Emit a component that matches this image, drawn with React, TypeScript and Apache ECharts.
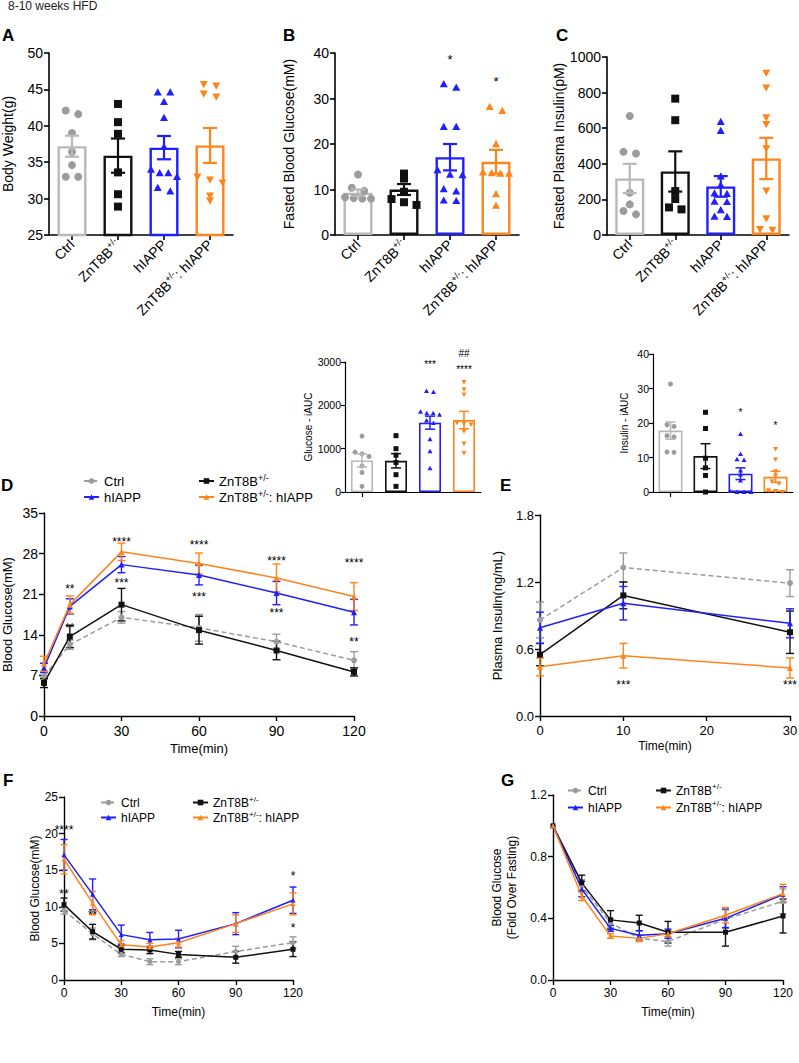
import React, { useEffect, useRef } from 'react';
import * as echarts from 'echarts';

const FONT = '"Liberation Sans", Arial, Helvetica, sans-serif';
const C_GRAY = '#9c9c9c';
const C_GRAYBAR = '#b8b8b8';
const C_BLACK = '#111111';
const C_BLUE = '#1f1fff';
const C_ORANGE = '#ff8419';

const groups = ['Ctrl', 'ZnT8B+/-', 'hIAPP', 'ZnT8B+/-: hIAPP'];
const pointColors = [C_GRAY, C_BLACK, C_BLUE, C_ORANGE];
const barColors = [C_GRAYBAR, C_BLACK, C_BLUE, C_ORANGE];

// ---- A: Body weight (g)
const bwMean = [37.2, 35.9, 37.0, 37.3];
const bwSem = [1.45, 2.35, 1.6, 2.4];
const bwCtrl = [42.1, 41.6, 39.0, 36.4, 34.6, 33.0, 33.0];
const bwZnt = [43.0, 40.5, 38.9, 33.6, 30.6, 28.9];
const bwHiapp = [44.6, 44.6, 43.3, 41.1, 37.1, 34.0, 33.5, 33.5, 33.0, 31.5, 31.0];
const bwDouble = [45.7, 45.5, 44.4, 44.0, 33.0, 32.6, 32.2, 30.4, 29.7];

// ---- B: Fasted blood glucose (mM)
const fbgMean = [9.3, 10.0, 17.1, 16.1];
const fbgSem = [0.7, 1.2, 2.9, 2.6];
const fbgCtrl = [13.3, 10.4, 9.7, 8.3, 8.1, 8.0, 8.0];
const fbgZnt = [13.5, 12.4, 9.5, 7.9, 7.2, 6.6];
const fbgHiapp = [33.2, 32.4, 23.8, 23.8, 14.3, 13.3, 13.2, 10.1, 9.6, 7.6, 7.5];
const fbgDouble = [28.2, 27.3, 20.0, 13.8, 13.6, 13.5, 13.5, 9.0, 6.5];
const fbgStars = [[2, 39.2, '*'], [3, 34.3, '*']];

// ---- C: Fasted plasma insulin (pM)
const fpiMean = [318, 357, 273, 430];
const fpiSem = [82, 113, 58, 116];
const fpiCtrl = [669, 467, 458, 237, 172, 135, 116];
const fpiZnt = [766, 645, 247, 202, 155, 144];
const fpiHiapp = [636, 585, 330, 280, 234, 232, 188, 186, 140, 104, 102];
const fpiDouble = [910, 828, 660, 622, 486, 249, 93, 32, 28];

// ---- Glucose iAUC inset
const gaucMean = [727, 720, 1600, 1660];
const gaucSem = [150, 165, 150, 200];
const gaucCtrl = [1290, 920, 880, 820, 600, 450, 130];
const gaucZnt = [1300, 1000, 850, 680, 400, 130];
const gaucHiapp = [2330, 2310, 1850, 1820, 1820, 1780, 1650, 1590, 1220, 940, 550];
const gaucDouble = [2540, 2370, 2250, 1600, 1580, 1560, 1400, 1120, 900];
const gaucStars = [[2, 3000, '***'], [3, 2870, '****'], [3, 3190, '##']];

// ---- Insulin iAUC inset
const iaucMean = [17.8, 10.4, 5.3, 4.4];
const iaucSem = [2.5, 3.6, 1.7, 1.6];
const iaucCtrl = [31.3, 19.5, 19.0, 16.3, 16.0, 11.6, 11.5];
const iaucZnt = [23.1, 18.4, 9.8, 7.0, 4.8, 0];
const iaucHiapp = [16.8, 11.0, 9.5, 9.3, 6.2, 5.1, 3.3, 0.3, 0, 0, 0];
const iaucDouble = [12.5, 9.4, 6.0, 4.8, 3.1, 2.5, 0.5, 0.3, 0];
const iaucStars = [[2, 23.6, '*'], [3, 20.0, '*']];

// ---- D: GTT blood glucose (mM)
const dTimes = [0, 10, 30, 60, 90, 120];
const dCtrl = [6.9, 12.3, 17.0, 15.2, 12.8, 9.6];
const dCtrlErr = [0.6, 0.8, 1.0, 2.3, 1.3, 1.5];
const dZnt = [5.7, 13.7, 19.2, 14.8, 11.3, 7.6];
const dZntErr = [0.8, 1.9, 2.8, 2.4, 1.6, 0.7];
const dHiapp = [8.3, 18.9, 26.1, 24.3, 21.2, 17.9];
const dHiappErr = [0.8, 1.3, 1.4, 1.7, 2.0, 2.2];
const dDouble = [9.0, 19.2, 28.3, 26.3, 23.8, 20.6];
const dDoubleErr = [1.3, 1.5, 1.5, 1.8, 2.4, 2.4];
const dStars = [[10, 22.3, '**'], [10, 15.6, '**'], [30, 30.5, '****'], [30, 23.4, '***'], [60, 30.0, '****'], [60, 20.9, '***'], [90, 27.2, '****'], [90, 18.2, '***'], [120, 26.8, '****'], [120, 13.2, '**']];

// ---- E: plasma insulin (ng/mL)
const eTimes = [0, 10, 30];
const eCtrl = [0.86, 1.33, 1.19];
const eCtrlErr = [0.16, 0.13, 0.12];
const eZnt = [0.55, 1.08, 0.75];
const eZntErr = [0.1, 0.12, 0.19];
const eHiapp = [0.79, 1.01, 0.83];
const eHiappErr = [0.14, 0.15, 0.13];
const eDouble = [0.44, 0.54, 0.43];
const eDoubleErr = [0.08, 0.11, 0.09];
const eStars = [[10, 0.3, '***'], [30, 0.3, '***']];

// ---- F: ITT blood glucose (mM)
const fTimes = [0, 15, 30, 45, 60, 90, 120];
const fCtrl = [9.5, 6.3, 3.5, 2.5, 2.5, 3.9, 5.1];
const fCtrlErr = [0.5, 0.8, 0.3, 0.4, 0.4, 0.7, 0.8];
const fZnt = [10.3, 6.6, 4.2, 4.1, 3.5, 3.1, 4.2];
const fZntErr = [0.9, 1.0, 0.5, 0.5, 0.4, 0.8, 1.0];
const fHiapp = [17.1, 11.7, 6.2, 5.5, 5.6, 7.7, 10.9];
const fHiappErr = [2.1, 2.1, 1.3, 1.0, 1.2, 1.5, 1.8];
const fDouble = [16.5, 10.5, 4.8, 4.5, 5.1, 7.7, 10.4];
const fDoubleErr = [2.0, 1.6, 0.6, 0.5, 0.6, 1.2, 1.5];
const fStars = [[0, 20.9, '****'], [0, 12.1, '**'], [15, 9.3, '**'], [120, 14.6, '*'], [120, 7.5, '*']];

// ---- G: ITT fold over fasting
const gTimes = [0, 15, 30, 45, 60, 90, 120];
const gCtrl = [1.0, 0.61, 0.37, 0.27, 0.25, 0.395, 0.51];
const gCtrlErr = [0, 0.04, 0.03, 0.02, 0.03, 0.06, 0.08];
const gZnt = [1.0, 0.63, 0.39, 0.37, 0.31, 0.31, 0.415];
const gZntErr = [0, 0.05, 0.06, 0.05, 0.07, 0.09, 0.11];
const gHiapp = [1.0, 0.59, 0.335, 0.29, 0.30, 0.40, 0.555];
const gHiappErr = [0, 0.05, 0.02, 0.03, 0.03, 0.06, 0.05];
const gDouble = [1.0, 0.545, 0.285, 0.27, 0.30, 0.42, 0.56];
const gDoubleErr = [0, 0.03, 0.015, 0.02, 0.02, 0.05, 0.06];

const supFmt = (s: string) => s.replace('+/-', '{s|+/-}');
const plainNum = (v: number) => String(v);

function marker(shape: string, x: number, y: number, s: number, color: string) {
  const h = s / 2;
  if (shape === 'circle') return { type: 'circle', shape: { cx: x, cy: y, r: h }, style: { fill: color } };
  if (shape === 'square') return { type: 'rect', shape: { x: x - h, y: y - h, width: s, height: s }, style: { fill: color } };
  if (shape === 'triangle') return { type: 'polygon', shape: { points: [[x, y - h], [x + h, y + h * 0.8], [x - h, y + h * 0.8]] }, style: { fill: color } };
  return { type: 'polygon', shape: { points: [[x - h, y - h * 0.8], [x + h, y - h * 0.8], [x, y + h]] }, style: { fill: color } };
}

function jitterLayout(vals: number[], tol: number) {
  const order = vals.map((_, i) => i).sort((a, b) => vals[b] - vals[a]);
  const res: number[][] = new Array(vals.length);
  let cluster: number[] = [];
  const flush = () => {
    const n = cluster.length;
    cluster.forEach((idx, j) => { res[idx] = [j - (n - 1) / 2, n]; });
    cluster = [];
  };
  order.forEach((idx) => {
    if (cluster.length && vals[cluster[cluster.length - 1]] - vals[idx] > tol) flush();
    cluster.push(idx);
  });
  flush();
  return res;
}

function starSeries(gi: number, stars: any[], fs: number) {
  return {
    type: 'custom', xAxisIndex: gi, yAxisIndex: gi, z: 6, silent: true,
    data: stars.map((s) => [s[0], s[1]]),
    renderItem: (params: any, api: any) => {
      const c = api.coord([api.value(0), api.value(1)]);
      const txt = stars[params.dataIndex][2] as string;
      const dy = txt.indexOf('*') >= 0 ? fs * 0.22 : 0;
      return { type: 'text', x: c[0], y: c[1] + dy, style: { text: txt, fill: '#000', fontSize: fs, fontFamily: FONT, align: 'center', verticalAlign: 'middle' } };
    },
  };
}

function errSeries(gi: number, data: number[][], colors: string[], cap: number, lw: number, z: number) {
  return {
    type: 'custom', xAxisIndex: gi, yAxisIndex: gi, z, silent: true,
    data,
    renderItem: (params: any, api: any) => {
      const x = api.value(0), y = api.value(1), e = api.value(2);
      if (!e) return null;
      const t = api.coord([x, y + e]);
      const b = api.coord([x, y - e]);
      const col = colors[params.dataIndex % colors.length];
      const st = { stroke: col, lineWidth: lw };
      const w = cap / 2;
      return {
        type: 'group', children: [
          { type: 'line', shape: { x1: t[0], y1: t[1], x2: b[0], y2: b[1] }, style: st },
          { type: 'line', shape: { x1: t[0] - w, y1: t[1], x2: t[0] + w, y2: t[1] }, style: st },
          { type: 'line', shape: { x1: b[0] - w, y1: b[1], x2: b[0] + w, y2: b[1] }, style: st },
        ],
      };
    },
  };
}

function barPanelSeries(p: any) {
  const out: any[] = [];
  out.push({
    type: 'bar', xAxisIndex: p.gi, yAxisIndex: p.gi, barWidth: p.bw, clip: true, z: 2, silent: true,
    data: p.means.map((m: number, i: number) => ({ value: m, itemStyle: { color: 'rgba(255,255,255,0)', borderColor: barColors[i], borderWidth: p.blw } })),
  });
  p.pts.forEach((vals: number[], gIdx: number) => {
    const lay = jitterLayout(vals, p.range * 0.025);
    const shape = p.shapes[gIdx];
    const color = pointColors[gIdx];
    out.push({
      type: 'custom', xAxisIndex: p.gi, yAxisIndex: p.gi, z: 3, silent: true,
      data: vals.map((v, k) => [gIdx, v, lay[k][0], lay[k][1]]),
      renderItem: (params: any, api: any) => {
        const c = api.coord([api.value(0), api.value(1)]);
        const off = api.value(2), n = api.value(3);
        const step = n > 1 ? Math.min(p.sp, (p.bw - 3) / (n - 1)) : 0;
        return marker(shape, c[0] + off * step, c[1], p.ps, color);
      },
    });
  });
  out.push(errSeries(p.gi, p.means.map((m: number, i: number) => [i, m, p.sems[i]]), barColors, p.cap, p.elw, 4));
  if (p.stars.length) out.push(starSeries(p.gi, p.stars, p.sf));
  return out;
}

const lineStyles: any = {
  'Ctrl': { color: C_GRAY, symbol: 'circle', dashed: true },
  'ZnT8B+/-': { color: C_BLACK, symbol: 'rect', dashed: false },
  'hIAPP': { color: C_BLUE, symbol: 'triangle', dashed: false },
  'ZnT8B+/-: hIAPP': { color: C_ORANGE, symbol: 'triangle', dashed: false },
};

function linePanelSeries(p: any) {
  const out: any[] = [];
  p.defs.forEach((d: any) => {
    const st = lineStyles[d.name];
    out.push(errSeries(p.gi, p.times.map((t: number, i: number) => [t, d.v[i], d.e[i]]), [st.color], p.cap, 1.4, 3));
    out.push({
      type: 'line', name: d.name, xAxisIndex: p.gi, yAxisIndex: p.gi, z: 4, silent: true,
      data: p.times.map((t: number, i: number) => [t, d.v[i]]),
      symbol: st.symbol, symbolSize: p.sym, showSymbol: true,
      itemStyle: { color: st.color },
      lineStyle: { color: st.color, width: 1.5, type: st.dashed ? [5, 3] : 'solid' },
    });
  });
  if (p.stars && p.stars.length) out.push(starSeries(p.gi, p.stars, p.sf));
  return out;
}

const axLine = (lw: number) => ({ show: true, onZero: false, lineStyle: { color: '#000', width: lw } });
const axTick = (lw: number, len: number) => ({ show: true, length: len, lineStyle: { color: '#000', width: lw } });

function catX(gi: number, labels: boolean, lw: number) {
  return {
    gridIndex: gi, type: 'category', data: groups,
    axisLine: axLine(lw), axisTick: { ...axTick(lw, 5), alignWithLabel: true },
    splitLine: { show: false },
    axisLabel: labels ? {
      show: true, interval: 0, rotate: 45, fontSize: 14, color: '#000', fontFamily: FONT, margin: 7, lineHeight: 17,
      formatter: supFmt,
      rich: { s: { fontSize: 9, lineHeight: 9, verticalAlign: 'top', color: '#000', fontFamily: FONT } },
    } : { show: false },
  };
}

function valAx(gi: number, o: any) {
  return {
    gridIndex: gi, type: 'value', min: o.min, max: o.max, interval: o.interval,
    axisLine: axLine(o.lw), axisTick: axTick(o.lw, o.tl || 5), splitLine: { show: false },
    axisLabel: { show: true, fontSize: o.fs, color: '#000', fontFamily: FONT, margin: o.margin || 6, formatter: o.fmt || plainNum },
    name: o.name, nameLocation: 'middle', nameGap: o.nameGap,
    nameTextStyle: { fontSize: o.nfs, color: '#000', fontFamily: FONT, lineHeight: o.nlh },
  };
}

function legend(data: string[], left: number, top: number, fs: number, rowH: number) {
  return {
    data, left, top, orient: 'vertical', itemWidth: 15, itemHeight: 7, itemGap: 0, itemTextGap: 6,
    selectedMode: false, padding: 0,
    formatter: supFmt,
    textStyle: {
      fontSize: fs, color: '#000', fontFamily: FONT, lineHeight: rowH,
      rich: { s: { fontSize: fs - 4, lineHeight: 9, verticalAlign: 'top', color: '#000', fontFamily: FONT } },
    },
  };
}

function buildOption() {
  const grids = [
    { left: 49, top: 53, width: 184, height: 182 },
    { left: 335, top: 53, width: 184, height: 182 },
    { left: 607, top: 57, width: 182, height: 178 },
    { left: 345, top: 362, width: 136, height: 130 },
    { left: 653, top: 354, width: 140, height: 138 },
    { left: 44, top: 513, width: 310, height: 203 },
    { left: 540, top: 515, width: 250, height: 201 },
    { left: 64, top: 797, width: 229, height: 183 },
    { left: 553, top: 795, width: 230, height: 185 },
  ].map((g) => ({ ...g, containLabel: false, outerBoundsMode: 'none', show: false }));

  const xAxis = [
    catX(0, true, 1.6),
    catX(1, true, 1.6),
    catX(2, true, 1.6),
    catX(3, false, 1.2),
    catX(4, false, 1.2),
    valAx(5, { min: 0, max: 120, interval: 30, lw: 1.4, fs: 14, margin: 8, name: 'Time(min)', nameGap: 26, nfs: 13 }),
    valAx(6, { min: 0, max: 30, interval: 10, lw: 1.4, fs: 13, margin: 8, name: 'Time(min)', nameGap: 24, nfs: 12 }),
    valAx(7, { min: 0, max: 120, interval: 30, lw: 1.4, fs: 12, margin: 7, name: 'Time(min)', nameGap: 26, nfs: 12 }),
    valAx(8, { min: 0, max: 120, interval: 30, lw: 1.4, fs: 12, margin: 7, name: 'Time(min)', nameGap: 26, nfs: 12 }),
  ];
  const yAxis = [
    valAx(0, { min: 25, max: 50, interval: 5, lw: 1.6, fs: 14, name: 'Body Weight(g)', nameGap: 34, nfs: 14 }),
    valAx(1, { min: 0, max: 40, interval: 10, lw: 1.6, fs: 14, name: 'Fasted Blood Glucose(mM)', nameGap: 39, nfs: 14 }),
    valAx(2, { min: 0, max: 1000, interval: 200, lw: 1.6, fs: 14, name: 'Fasted Plasma Insulin(pM)', nameGap: 38, nfs: 14 }),
    valAx(3, { min: 0, max: 3000, interval: 1000, lw: 1.2, fs: 10.5, tl: 4, margin: 4, name: 'Glucose - iAUC', nameGap: 31, nfs: 10 }),
    valAx(4, { min: 0, max: 40, interval: 10, lw: 1.2, fs: 10.5, tl: 4, margin: 4, name: 'Insulin - iAUC', nameGap: 24, nfs: 10 }),
    valAx(5, { min: 0, max: 35, interval: 7, lw: 1.4, fs: 14, name: 'Blood Glucose(mM)', nameGap: 30, nfs: 13 }),
    valAx(6, { min: 0, max: 1.8, interval: 0.6, lw: 1.4, fs: 13, name: 'Plasma Insulin(ng/mL)', nameGap: 36, nfs: 13, fmt: (v: number) => v.toFixed(1) }),
    valAx(7, { min: 0, max: 25, interval: 5, lw: 1.4, fs: 12, name: 'Blood Glucose(mM)', nameGap: 21, nfs: 12 }),
    valAx(8, { min: 0, max: 1.2, interval: 0.4, lw: 1.4, fs: 12, name: 'Blood Glucose\n(Fold Over Fasting)', nameGap: 34, nfs: 12, nlh: 15, fmt: (v: number) => v.toFixed(1) }),
  ];

  const big = { bw: 29, ps: 8, sp: 12.5, cap: 14, elw: 2.2, blw: 2.4, sf: 13 };
  const small = { ps: 5, sp: 7, cap: 10, elw: 1.5, blw: 1.6, sf: 10 };
  const series: any[] = [
    ...linePanelSeries({ gi: 5, times: dTimes, sym: 6, cap: 8, sf: 12, stars: dStars, defs: [
      { name: 'Ctrl', v: dCtrl, e: dCtrlErr }, { name: 'ZnT8B+/-', v: dZnt, e: dZntErr },
      { name: 'hIAPP', v: dHiapp, e: dHiappErr }, { name: 'ZnT8B+/-: hIAPP', v: dDouble, e: dDoubleErr }] }),
    ...linePanelSeries({ gi: 6, times: eTimes, sym: 6, cap: 8, sf: 12, stars: eStars, defs: [
      { name: 'Ctrl', v: eCtrl, e: eCtrlErr }, { name: 'ZnT8B+/-', v: eZnt, e: eZntErr },
      { name: 'hIAPP', v: eHiapp, e: eHiappErr }, { name: 'ZnT8B+/-: hIAPP', v: eDouble, e: eDoubleErr }] }),
    ...linePanelSeries({ gi: 7, times: fTimes, sym: 5, cap: 7, sf: 12, stars: fStars, defs: [
      { name: 'Ctrl', v: fCtrl, e: fCtrlErr }, { name: 'ZnT8B+/-', v: fZnt, e: fZntErr },
      { name: 'hIAPP', v: fHiapp, e: fHiappErr }, { name: 'ZnT8B+/-: hIAPP', v: fDouble, e: fDoubleErr }] }),
    ...linePanelSeries({ gi: 8, times: gTimes, sym: 5, cap: 7, sf: 12, stars: [], defs: [
      { name: 'Ctrl', v: gCtrl, e: gCtrlErr }, { name: 'ZnT8B+/-', v: gZnt, e: gZntErr },
      { name: 'hIAPP', v: gHiapp, e: gHiappErr }, { name: 'ZnT8B+/-: hIAPP', v: gDouble, e: gDoubleErr }] }),
    ...barPanelSeries({ gi: 0, ...big, means: bwMean, sems: bwSem, pts: [bwCtrl, bwZnt, bwHiapp, bwDouble], shapes: ['circle', 'square', 'triangle', 'triangleDown'], range: 25, stars: [] }),
    ...barPanelSeries({ gi: 1, ...big, means: fbgMean, sems: fbgSem, pts: [fbgCtrl, fbgZnt, fbgHiapp, fbgDouble], shapes: ['circle', 'square', 'triangle', 'triangle'], range: 40, stars: fbgStars }),
    ...barPanelSeries({ gi: 2, ...big, means: fpiMean, sems: fpiSem, pts: [fpiCtrl, fpiZnt, fpiHiapp, fpiDouble], shapes: ['circle', 'square', 'triangle', 'triangleDown'], range: 1000, stars: [] }),
    ...barPanelSeries({ gi: 3, ...small, bw: 22, means: gaucMean, sems: gaucSem, pts: [gaucCtrl, gaucZnt, gaucHiapp, gaucDouble], shapes: ['circle', 'square', 'triangle', 'triangleDown'], range: 3000, stars: gaucStars }),
    ...barPanelSeries({ gi: 4, ...small, bw: 24, means: iaucMean, sems: iaucSem, pts: [iaucCtrl, iaucZnt, iaucHiapp, iaucDouble], shapes: ['circle', 'square', 'triangle', 'triangleDown'], range: 40, stars: iaucStars }),
  ];

  const letter = (t: string, x: number, y: number) => ({
    type: 'text', x, y, silent: true,
    style: { text: t, fontSize: 17, fontWeight: 'bold', fontFamily: FONT, fill: '#000', verticalAlign: 'middle' },
  });

  return {
    animation: false,
    backgroundColor: '#ffffff',
    textStyle: { fontFamily: FONT },
    grid: grids,
    xAxis,
    yAxis,
    series,
    legend: [
      legend(['Ctrl', 'hIAPP'], 83, 473, 13, 16),
      legend(['ZnT8B+/-', 'ZnT8B+/-: hIAPP'], 198, 473, 13, 16),
      legend(['Ctrl', 'hIAPP'], 100, 795, 12, 15),
      legend(['ZnT8B+/-', 'ZnT8B+/-: hIAPP'], 192, 795, 12, 15),
      legend(['Ctrl', 'hIAPP'], 567, 782, 12, 17),
      legend(['ZnT8B+/-', 'ZnT8B+/-: hIAPP'], 655, 782, 12, 17),
    ],
    graphic: [
      { type: 'text', x: 8, y: 6, silent: true, style: { text: '8-10 weeks HFD', fontSize: 12, fontFamily: FONT, fill: '#222', verticalAlign: 'middle' } },
      letter('A', 2, 35),
      letter('B', 283, 35),
      letter('C', 556, 35),
      letter('D', 1, 485),
      letter('E', 500, 485),
      letter('F', 3, 780),
      letter('G', 501, 780),
    ],
  };
}

export default function App() {
  const ref = useRef<HTMLDivElement>(null);
  useEffect(() => {
    const chart = echarts.init(ref.current as HTMLDivElement, null, { renderer: 'svg' });
    chart.setOption(buildOption() as any);
    return () => chart.dispose();
  }, []);
  return <div ref={ref} style={{ position: 'absolute', left: 0, top: 0, width: 799, height: 1063, background: '#fff' }} />;
}
